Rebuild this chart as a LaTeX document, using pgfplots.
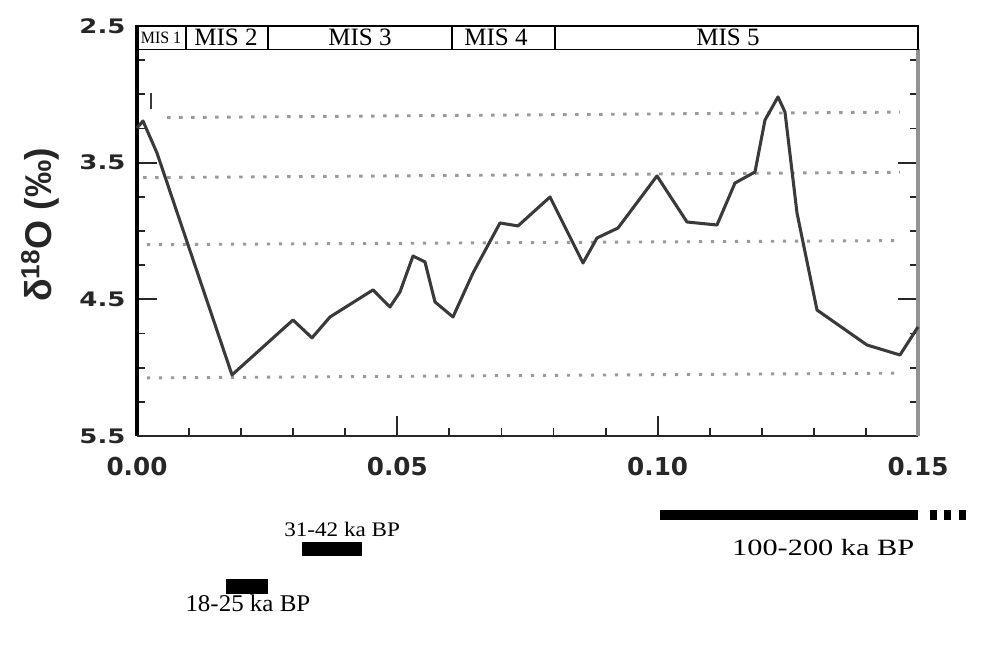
\documentclass[border=0pt]{standalone}
\usepackage{fontspec}
\setmainfont{Liberation Serif}
\newfontfamily\tickfont{DejaVu Sans}
\newfontfamily\labfont{Liberation Sans}
\usepackage{pgfplots}
\pgfplotsset{compat=1.18}
\definecolor{curve}{HTML}{3A3A3A}
\definecolor{dotgray}{HTML}{9A9A9A}
\begin{document}
\begin{tikzpicture}
\useasboundingbox (-102.75pt,-158.25pt) rectangle (642pt,327pt);
\begin{axis}[
  at={(0,0)}, anchor=south west,
  scale only axis, width=585.75pt, height=307.5pt,
  xmin=0, xmax=0.15, ymin=2.5, ymax=5.5,
  y dir=reverse,
  clip=false,
  axis line style={draw=none},
  xtick={0,0.05,0.1,0.15},
  xticklabels={0.00,0.05,0.10,0.15},
  minor xtick={0.01,0.02,0.03,0.04,0.06,0.07,0.08,0.09,0.11,0.12,0.13,0.14},
  ytick={2.5,3.5,4.5,5.5},
  yticklabels={2.5,3.5,4.5,5.5},
  minor ytick={2.75,3,3.25,3.75,4,4.25,4.75,5,5.25},
  xtick pos=left, ytick pos=both,
  tick align=inside,
  major tick length=15pt, minor tick length=6pt,
  tick style={line width=1.4pt, black!85},
  xticklabel style={font=\tickfont\bfseries\fontsize{18.5pt}{20pt}\selectfont, anchor=center, yshift=-23pt, text=black!85},
  yticklabel style={font=\tickfont\bfseries\fontsize{15pt}{16pt}\selectfont, anchor=east, xshift=-4pt, xscale=1.3, text=black!85},
  ylabel={\labfont\bfseries δ\textsuperscript{18}O (‰)},
  ylabel style={font=\fontsize{28pt}{30pt}\selectfont, at={(axis description cs:-0.124,0.515)}, anchor=center, text=black!85},
]
% axis frame
\draw[black, line width=2.4pt] (axis cs:0,2.49) -- (axis cs:0,5.5);
\draw[black!85, line width=2.2pt] (axis cs:0,5.5) -- (axis cs:0.15,5.5);
\draw[gray!85, line width=3.6pt] (axis cs:0.15,2.67) -- (axis cs:0.15,5.5);
% MIS box
\draw[black, line width=1.1pt] (axis cs:0,2.5) rectangle (axis cs:0.15,2.67);
\draw[black, line width=1.3pt] (axis cs:0.00941,2.5) -- (axis cs:0.00941,2.67);
\draw[black, line width=1.3pt] (axis cs:0.02516,2.5) -- (axis cs:0.02516,2.67);
\draw[black, line width=1.3pt] (axis cs:0.06050,2.5) -- (axis cs:0.06050,2.67);
\draw[black, line width=1.3pt] (axis cs:0.08028,2.5) -- (axis cs:0.08028,2.67);
\node[font=\fontsize{13pt}{14pt}\selectfont, xscale=0.92] at (axis cs:0.00461,2.585) {MIS 1};
\node[font=\fontsize{18.75pt}{20pt}\selectfont] at (axis cs:0.01709,2.585) {MIS 2};
\node[font=\fontsize{18.75pt}{20pt}\selectfont] at (axis cs:0.04283,2.585) {MIS 3};
\node[font=\fontsize{18.75pt}{20pt}\selectfont] at (axis cs:0.06895,2.585) {MIS 4};
\node[font=\fontsize{18.75pt}{20pt}\selectfont] at (axis cs:0.1135,2.585) {MIS 5};
% dotted reference lines
\addplot[dotgray, line width=2.2pt, dash pattern=on 2.5pt off 6.5pt] coordinates {(0.0058,3.17) (0.1465,3.13)};
\addplot[dotgray, line width=2.2pt, dash pattern=on 2.5pt off 6.5pt] coordinates {(0.0012,3.61) (0.1465,3.57)};
\addplot[dotgray, line width=2.2pt, dash pattern=on 2.5pt off 6.5pt] coordinates {(0.0019,4.10) (0.1465,4.07)};
\addplot[dotgray, line width=2.2pt, dash pattern=on 2.5pt off 6.5pt] coordinates {(0.0019,5.075) (0.1465,5.04)};
% small mark
\addplot[curve, line width=2pt] coordinates {(0.0027,2.99) (0.0027,3.11)};
% delta 18O curve
\addplot[curve, line width=2.3pt, line join=round] coordinates {
(0.00000,3.246) (0.00115,3.195) (0.00384,3.429) (0.01825,5.053)
(0.02996,4.651) (0.03361,4.782) (0.03707,4.629) (0.04533,4.431)
(0.04859,4.556) (0.05051,4.446) (0.05301,4.183) (0.05531,4.226)
(0.05723,4.519) (0.06069,4.629) (0.06453,4.307) (0.06972,3.941)
(0.07317,3.963) (0.07932,3.751) (0.08566,4.234) (0.08835,4.051)
(0.09238,3.978) (0.09987,3.597) (0.10563,3.934) (0.11139,3.956)
(0.11485,3.649) (0.11869,3.568) (0.12061,3.188) (0.12311,3.019)
(0.12445,3.129) (0.12676,3.868) (0.13060,4.578) (0.14020,4.834)
(0.14654,4.907) (0.15000,4.702)
};
% age bars
\addplot[fill=black, draw=none] coordinates {(0.10045,6.041) (0.15,6.041) (0.15,6.114) (0.10045,6.114)} --cycle;
\addplot[fill=black, draw=none] coordinates {(0.1523,6.041) (0.1536,6.041) (0.1536,6.114) (0.1523,6.114)} --cycle;
\addplot[fill=black, draw=none] coordinates {(0.1550,6.041) (0.1563,6.041) (0.1563,6.114) (0.1550,6.114)} --cycle;
\addplot[fill=black, draw=none] coordinates {(0.1579,6.041) (0.1592,6.041) (0.1592,6.114) (0.1579,6.114)} --cycle;
\addplot[fill=black, draw=none] coordinates {(0.03169,6.275) (0.04321,6.275) (0.04321,6.377) (0.03169,6.377)} --cycle;
\addplot[fill=black, draw=none] coordinates {(0.01709,6.545) (0.02516,6.545) (0.02516,6.655) (0.01709,6.655)} --cycle;
\node[font=\fontsize{17.5pt}{19pt}\selectfont, xscale=1.3] at (axis cs:0.1318,6.318) {100-200 ka BP};
\node[font=\fontsize{15.5pt}{17pt}\selectfont, xscale=1.12] at (axis cs:0.0394,6.187) {31-42 ka BP};
\node[font=\fontsize{18pt}{19pt}\selectfont, xscale=1.04] at (axis cs:0.0213,6.721) {18-25 ka BP};
\end{axis}
\end{tikzpicture}
\end{document}
